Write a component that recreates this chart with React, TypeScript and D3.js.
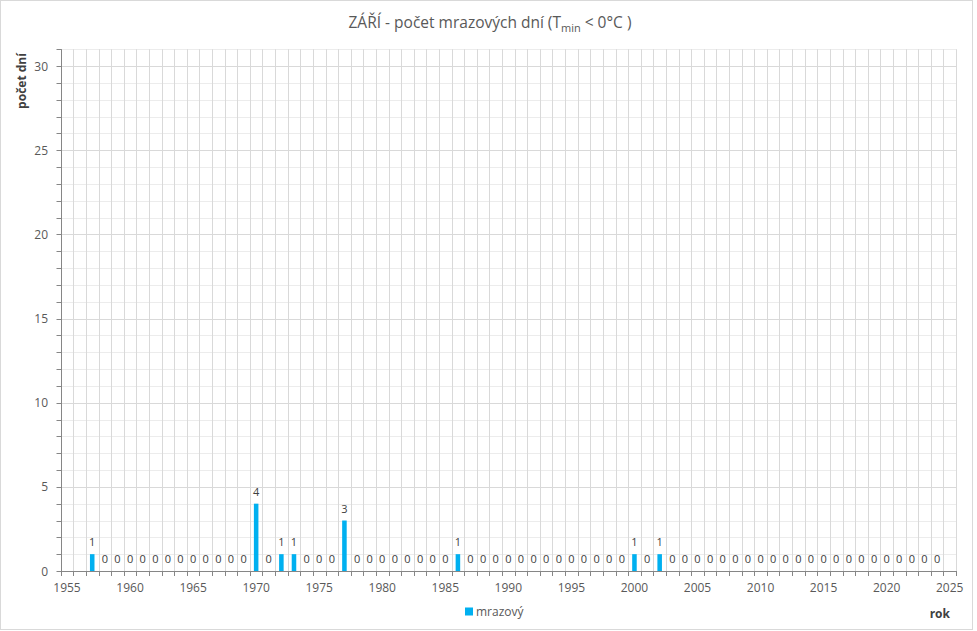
import React from "react";
import * as d3 from "d3";

const years: number[] = [];
for (let y = 1955; y <= 2025; y++) years.push(y);

const dataYears = [
  1957, 1958, 1959, 1960, 1961, 1962, 1963, 1964, 1965, 1966, 1967, 1968, 1969,
  1970, 1971, 1972, 1973, 1974, 1975, 1976, 1977, 1978, 1979, 1980, 1981, 1982,
  1983, 1984, 1985, 1986, 1987, 1988, 1989, 1990, 1991, 1992, 1993, 1994, 1995,
  1996, 1997, 1998, 1999, 2000, 2001, 2002, 2003, 2004, 2005, 2006, 2007, 2008,
  2009, 2010, 2011, 2012, 2013, 2014, 2015, 2016, 2017, 2018, 2019, 2020, 2021,
  2022, 2023, 2024,
];
const frostDays = [
  1, 0, 0, 0, 0, 0, 0, 0, 0, 0, 0, 0, 0,
  4, 0, 1, 1, 0, 0, 0, 3, 0, 0, 0, 0, 0,
  0, 0, 0, 1, 0, 0, 0, 0, 0, 0, 0, 0, 0,
  0, 0, 0, 0, 1, 0, 1, 0, 0, 0, 0, 0, 0,
  0, 0, 0, 0, 0, 0, 0, 0, 0, 0, 0, 0, 0,
  0, 0, 0,
];
const xTickLabels = [1955, 1960, 1965, 1970, 1975, 1980, 1985, 1990, 1995, 2000, 2005, 2010, 2015, 2020, 2025];
const yTickLabels = [0, 5, 10, 15, 20, 25, 30];

const W = 977;
const H = 631;
const left = 60.7;
const right = 956;
const top = 49.2;
const bottom = 571;
const FONT = "'Open Sans', 'Noto Sans', sans-serif";
const TXT = "#595959";

export default function App() {
  const x = d3.scaleBand<number>().domain(years).range([left, right]).paddingInner(0).paddingOuter(0);
  const y = d3.scaleLinear().domain([0, 31]).range([bottom, top]);
  const bw = x.bandwidth();
  const barW = bw * 0.36;
  const minorY = d3.range(0, 32, 1);
  const edges = years.map((yr) => x(yr) as number).concat([right]);

  return (
    <div style={{ position: "fixed", left: 0, top: 0 }}>
      <svg width={W} height={H} style={{ display: "block", background: "#fff" }}>
        <rect x={0.5} y={0.5} width={972} height={629} fill="#fff" stroke="#d9d9d9" />
        {/* minor horizontal grid */}
        {minorY.filter((v) => v % 5 !== 0).map((v) => (
          <line key={"mh" + v} x1={left} x2={right} y1={Math.round(y(v)) + 0.5} y2={Math.round(y(v)) + 0.5} stroke="#ececec" />
        ))}
        {/* vertical grid */}
        {edges.map((ex, i) => (
          <line key={"vg" + i} x1={Math.round(ex) + 0.5} x2={Math.round(ex) + 0.5} y1={top} y2={bottom} stroke="#d9d9d9" />
        ))}
        {/* major horizontal grid */}
        {minorY.filter((v) => v % 5 === 0 && v > 0).map((v) => (
          <line key={"Mh" + v} x1={left} x2={right} y1={Math.round(y(v)) + 0.5} y2={Math.round(y(v)) + 0.5} stroke="#d9d9d9" />
        ))}
        {/* y axis */}
        <line x1={Math.round(left) + 0.5} x2={Math.round(left) + 0.5} y1={top} y2={bottom} stroke="#868686" />
        {minorY.map((v) => (
          <line key={"yt" + v} x1={Math.round(left) - 4.5} x2={Math.round(left) + 0.5} y1={Math.round(y(v)) + 0.5} y2={Math.round(y(v)) + 0.5} stroke="#868686" />
        ))}
        {yTickLabels.map((v) => (
          <text key={"yl" + v} x={48} y={y(v) + 4.5} textAnchor="end" fontFamily={FONT} fontSize={12} fill={TXT}>
            {v}
          </text>
        ))}
        {/* x axis */}
        <line x1={left} x2={right} y1={bottom + 0.5} y2={bottom + 0.5} stroke="#868686" />
        {edges.map((ex, i) => (
          <line key={"xt" + i} x1={Math.round(ex) + 0.5} x2={Math.round(ex) + 0.5} y1={bottom} y2={bottom + 5} stroke="#868686" />
        ))}
        {xTickLabels.map((v) => (
          <text key={"xl" + v} x={(x(v) as number) + bw / 2} y={bottom + 21} textAnchor="middle" fontFamily={FONT} fontSize={12} fill={TXT}>
            {v}
          </text>
        ))}
        {/* bars */}
        {dataYears.map((yr, i) => (
          <rect key={"b" + yr} x={(x(yr) as number) + bw / 2 - barW / 2} y={y(frostDays[i])} width={barW} height={bottom - y(frostDays[i])} fill="#00b0f0" />
        ))}
        {dataYears.map((yr, i) => (
          <text key={"dl" + yr} x={(x(yr) as number) + bw / 2} y={y(frostDays[i]) - 8} textAnchor="middle" fontFamily={FONT} fontSize={11} fill="#404040">
            {frostDays[i]}
          </text>
        ))}
        {/* title */}
        <text x={490} y={28} textAnchor="middle" fontFamily={FONT} fontSize={15.5} fill={TXT}>
          ZÁŘÍ - počet mrazových dní (T
          <tspan fontSize={11} dy={4}>min</tspan>
          <tspan dy={-4}> &lt; 0°C )</tspan>
        </text>
        {/* axis titles */}
        <text transform={`translate(26, 81) rotate(-90)`} textAnchor="middle" fontFamily={FONT} fontSize={12} fontWeight="bold" fill="#404040">
          počet dní
        </text>
        <text x={950} y={618} textAnchor="end" fontFamily={FONT} fontSize={12} fontWeight="bold" fill="#404040">
          rok
        </text>
        {/* legend */}
        <rect x={465} y={607.5} width={8} height={8} fill="#00b0f0" />
        <text x={476} y={616} fontFamily={FONT} fontSize={12} fill={TXT}>
          mrazový
        </text>
      </svg>
    </div>
  );
}
